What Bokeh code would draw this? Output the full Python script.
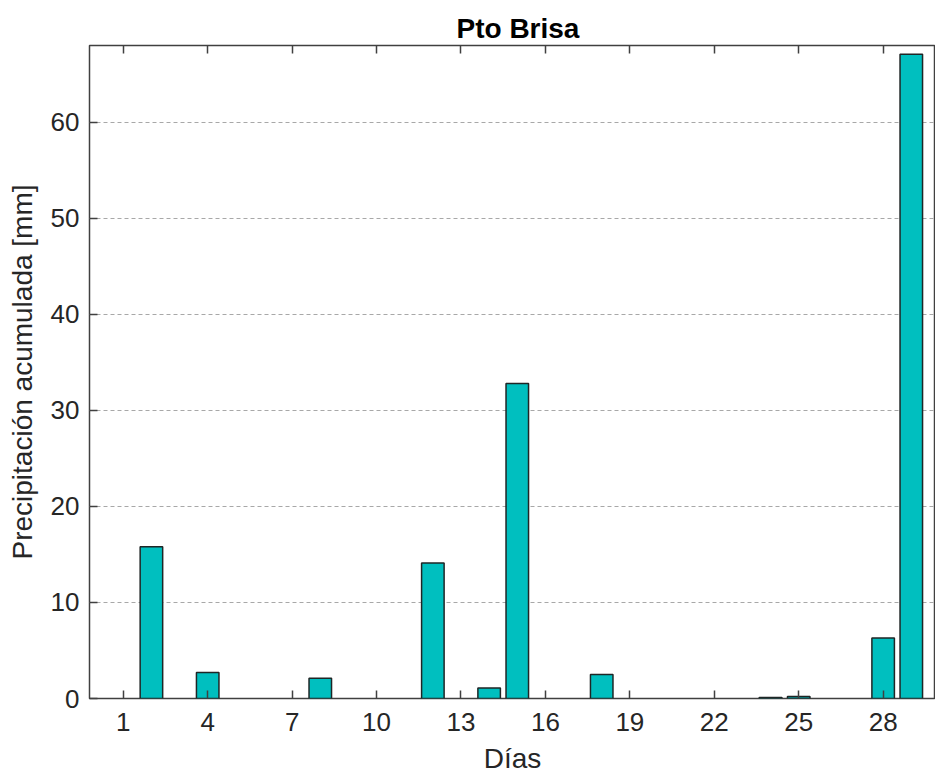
from bokeh.plotting import figure
from bokeh.models import ColumnDataSource, FixedTicker, LinearAxis, Range1d, Title
from bokeh.embed import file_html
from bokeh.resources import INLINE

# ---- data ----
days = [2, 4, 8, 12, 14, 15, 18, 24, 25, 28, 29]
precip = [15.8, 2.7, 2.1, 14.1, 1.1, 32.8, 2.5, 0.1, 0.2, 6.3, 67.1]
x_ticks = [1, 4, 7, 10, 13, 16, 19, 22, 25, 28]
y_ticks = [0, 10, 20, 30, 40, 50, 60]
title_text = "Pto Brisa"
x_label = "Días"
y_label = "Precipitación acumulada [mm]"

FONT = "Liberation Sans"
TXT = "#262626"
AX = "#404040"

src = ColumnDataSource(dict(day=days, mm=precip))

p = figure(width=935, height=776, output_backend="svg", toolbar_location=None,
           x_range=Range1d(-0.2, 29.86), y_range=Range1d(0, 68),
           min_border_left=89, min_border_right=0, min_border_top=45, min_border_bottom=78)
p.background_fill_color = "white"
p.border_fill_color = "white"
p.outline_line_color = AX
p.outline_line_width = 1.5

p.vbar(x="day", top="mm", width=0.8, source=src,
       fill_color="#00BFBF", line_color="#1f2626", line_width=1.5)

# axes
for ax in (p.xaxis[0], p.yaxis[0]):
    ax.axis_line_color = None
    ax.major_tick_in = 8
    ax.major_tick_out = 0
    ax.minor_tick_line_color = None
    ax.major_tick_line_color = AX
    ax.major_tick_line_width = 1.5
    ax.major_label_text_font = FONT
    ax.major_label_text_font_size = "26px"
    ax.major_label_text_color = TXT
    ax.axis_label_text_font = FONT
    ax.axis_label_text_font_size = "28px"
    ax.axis_label_text_font_style = "normal"
    ax.axis_label_text_color = TXT
p.xaxis[0].ticker = FixedTicker(ticks=x_ticks)
p.yaxis[0].ticker = FixedTicker(ticks=y_ticks)
p.xaxis[0].major_label_standoff = 14
p.yaxis[0].major_label_standoff = 10
p.xaxis[0].axis_label = x_label
p.xaxis[0].axis_label_standoff = 9
p.yaxis[0].axis_label = y_label
p.yaxis[0].axis_label_standoff = 10

top_ax = LinearAxis(ticker=FixedTicker(ticks=x_ticks), axis_line_color=None,
                    major_tick_in=8, major_tick_out=0, major_tick_line_color=AX,
                    major_tick_line_width=1.5, minor_tick_line_color=None,
                    major_label_text_font_size="0px", major_label_standoff=0)
top_ax.major_label_text_color = None
p.add_layout(top_ax, "above")

p.title = Title(text=title_text, align="left", offset=367, text_font=FONT,
                text_font_size="28px", text_font_style="bold", text_color="black",
                standoff=4)

p.xgrid.grid_line_color = None
p.ygrid.ticker = FixedTicker(ticks=y_ticks[1:])
p.ygrid.grid_line_color = "#a8a8a8"
p.ygrid.grid_line_dash = "4 3"
p.ygrid.grid_line_width = 1.2

open("out.html", "w").write(file_html(p, INLINE))
